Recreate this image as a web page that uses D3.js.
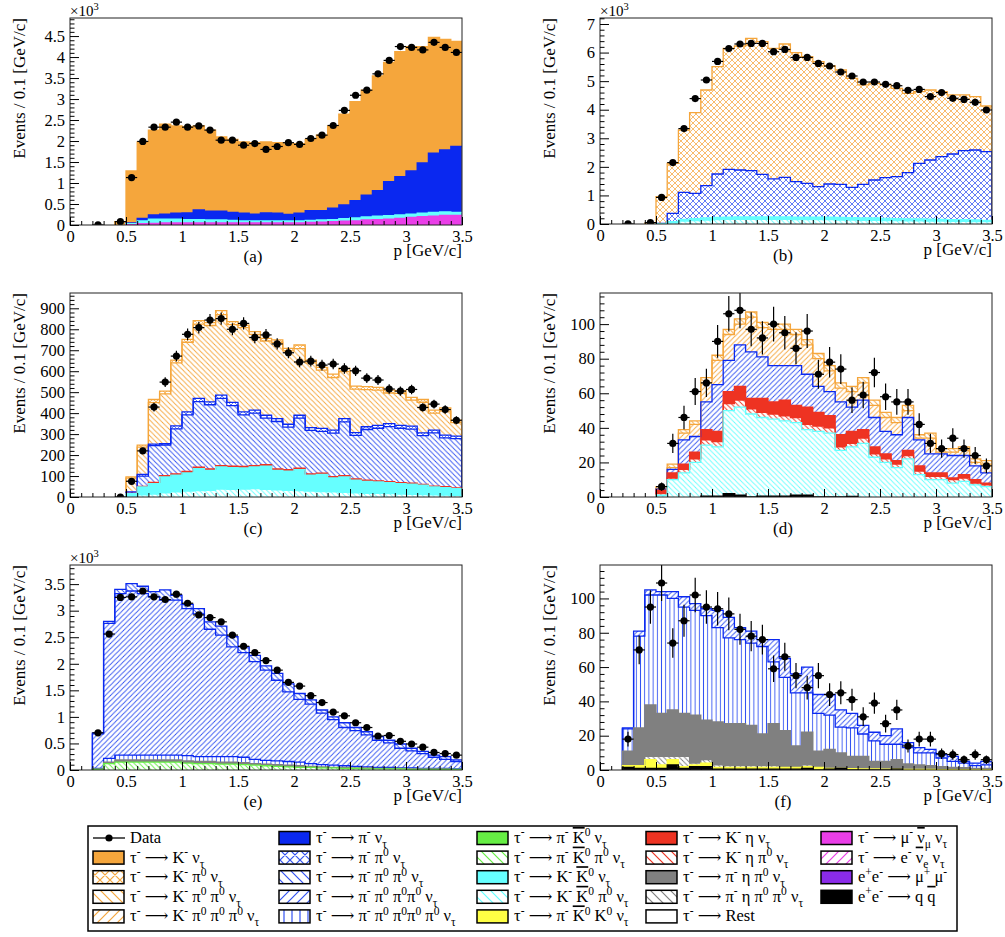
<!DOCTYPE html>
<html>
<head>
<meta charset="utf-8">
<script src="https://cdn.jsdelivr.net/npm/d3@7"></script>
<style>
body { margin: 0; background: #fff; }
svg text { font-family: "Liberation Serif", "DejaVu Serif", serif; white-space: pre; }
</style>
</head>
<body>
<svg id="fig" width="1005" height="937" font-family="Liberation Serif, serif"></svg>
<script>
// lower edges of the 35 momentum bins (0.1 GeV/c wide)
var bins = d3.range(35).map(function(i) { return i / 10; });

// ---- panel (a), values in 10^3 ----
var aData = [null,null,0.001,null,0.08,1.13,1.99,2.33,2.33,2.45,
  2.33,2.36,2.26,2.02,2.02,1.90,1.94,1.80,1.87,1.96,
  1.92,2.06,2.14,2.37,2.73,3.09,3.21,3.60,3.92,4.25,
  4.23,4.17,4.35,4.23,4.11];
var aTopMu = [0,0,0,0,0,0.01,0.03,0.04,0.05,0.05,
  0.05,0.05,0.05,0.05,0.05,0.05,0.05,0.05,0.05,0.05,
  0.05,0.06,0.07,0.08,0.09,0.10,0.12,0.13,0.14,0.16,
  0.18,0.20,0.21,0.23,0.23];
var aTopCyan = [0,0,0,0,0,0.03,0.10,0.14,0.14,0.14,
  0.13,0.13,0.12,0.12,0.11,0.10,0.10,0.10,0.10,0.10,
  0.10,0.11,0.12,0.13,0.15,0.17,0.19,0.21,0.22,0.24,
  0.26,0.28,0.30,0.31,0.30];
var aTopPi = [0,0,0,0,0,0.05,0.16,0.24,0.26,0.28,
  0.29,0.36,0.33,0.33,0.30,0.28,0.26,0.29,0.28,0.25,
  0.28,0.34,0.34,0.40,0.48,0.58,0.71,0.82,1.03,1.15,
  1.29,1.48,1.71,1.79,1.87];
var aTopK = [0,0,0,0,0.08,1.29,1.98,2.26,2.40,2.36,
  2.34,2.36,2.26,2.10,2.04,1.98,1.96,1.98,1.96,1.93,
  1.94,2.04,2.14,2.36,2.64,2.94,3.21,3.55,3.87,4.13,
  4.25,4.25,4.47,4.42,4.37];

// ---- panel (b), values in 10^3 ----
var bData = [null,null,0.001,null,0.05,0.93,2.15,3.34,4.39,5.04,
  5.69,6.14,6.30,6.32,6.32,6.03,6.11,5.83,5.83,5.62,
  5.53,5.32,5.18,4.97,4.97,4.89,4.84,4.68,4.71,4.46,
  4.60,4.40,4.36,4.26,3.99];
var bTopCyanH = [0,0,0,0,0,0,0.04,0.10,0.12,0.14,
  0.15,0.16,0.16,0.16,0.16,0.16,0.16,0.15,0.15,0.15,
  0.15,0.14,0.14,0.13,0.13,0.12,0.12,0.11,0.11,0.10,
  0.10,0.09,0.09,0.08,0.08];
var bTopCyan = [0,0,0,0,0,0.01,0.08,0.16,0.19,0.21,
  0.23,0.24,0.25,0.25,0.25,0.25,0.25,0.24,0.24,0.24,
  0.24,0.23,0.22,0.21,0.21,0.20,0.19,0.18,0.18,0.17,
  0.16,0.15,0.15,0.14,0.13];
var bTopPiPi0 = [0,0,0,0,0,0.02,0.37,1.11,1.07,1.34,
  1.75,1.91,1.89,1.87,1.74,1.58,1.63,1.48,1.42,1.31,
  1.40,1.39,1.28,1.39,1.54,1.62,1.66,1.80,2.12,2.24,
  2.36,2.45,2.57,2.59,2.53];
var bTotal = [0,0,0,0,0.03,0.96,2.12,3.29,3.90,4.69,
  5.51,6.15,6.23,6.50,6.38,6.15,6.30,6.00,5.86,5.68,
  5.53,5.39,5.10,4.87,4.92,4.87,4.75,4.57,4.63,4.69,
  4.63,4.52,4.52,4.46,4.13];

// ---- panel (c) ----
var cData = [null,null,null,null,0,75,220,429,548,672,
  776,808,844,851,800,828,761,773,730,688,
  644,648,629,634,613,602,567,558,515,505,
  513,427,443,417,366];
var cTopCyanH = [0,0,0,0,0,4,10,14,20,24,
  28,30,32,38,36,38,40,36,34,32,
  30,28,26,24,22,20,18,17,16,14,
  13,12,10,9,8];
var cTopCyan = [0,0,0,0,0,16,48,64,96,104,
  115,135,127,143,140,139,143,147,127,123,
  131,104,108,91,96,80,75,72,68,64,
  61,56,48,45,40];
var cTopRed = [0,0,0,0,0,17,51,70,102,110,
  122,142,134,150,147,146,150,154,134,130,
  138,110,114,97,102,86,80,77,73,69,
  66,60,52,49,44];
var cTopPiPi0Pi0 = [0,0,0,0,0,18,100,245,248,325,
  392,455,440,470,436,392,400,376,360,333,
  376,318,313,305,358,294,322,328,336,328,
  324,293,306,282,278];
var cTopPiPi0 = [0,0,0,0,0,24,108,252,255,339,
  406,470,454,486,451,406,414,390,374,347,
  390,331,327,319,374,307,335,342,350,342,
  338,306,319,295,290];
var cTopKPi0Pi0 = [0,0,0,0,0,90,238,450,492,640,
  738,825,818,870,822,808,776,744,737,697,
  708,640,605,570,598,515,512,510,496,494,
  462,452,400,410,355];
var cTotal = [0,0,0,0,0,96,247,465,505,653,
  752,841,832,889,836,820,789,757,749,709,
  725,653,618,586,613,529,526,523,510,507,
  475,465,414,425,366];

// ---- panel (d) ----
var dData = [null,null,null,null,null,6,31,46,61,66,
  90,106,108,97,92,100,95,86,96,71,
  78,74,56,59,72,58,55,55,42,31,
  28,34,28,24,18];
var dTopQQ = [0,0,0,0,0,0,0,0,0,0.5,
  0.5,2,1,0,0.5,0.5,0.5,1,1,0,
  0,0,0.3,0,0,0,0,0,0,0,
  0,0,0,0,0];
var dTopCyanH = [0,0,0,0,0,1,10,14,20,30,
  29,50,52,48,46,45,44,43,39,38,
  37,27,29,31,23,20,17,22,13,10,
  10,8,9,7,6];
var dTopRedH = [0,0,0,0,0,2,11,16,22,33,
  32,54,56,51,49,48,47,46,42,41,
  40,29,31,34,25,22,19,24,15,12,
  12,10,11,8,7];
var dTopRed = [0,0,0,0,0,4,14,19,26,39,
  38,61,64,57,57,55,56,53,52,49,
  47,36,38,39,29,25,21,27,18,14,
  14,11,13,10,8];
var dTopBlue = [0,0,0,0,0,4.5,16,33,35,55,
  65,79,88,84,81,76,76,76,71,64,
  61,55,52,56,46,38,36,46,33,25,
  25,24,24,18,14];
var dTopKPi0Pi0Pi0 = [0,0,0,0,0,5,17,37,42,66,
  79,94,100,104,98,97,97,94,88,80,
  73,63,61,66,53,46,43,50,34,34,
  26,26,27,20,19];
var dTotal = [0,0,0,0,0,6,19,39,44,69,
  82,97,103,107,101,100,100,97,91,83,
  76,66,64,69,56,49,46,53,36,37,
  28,28,29,22,21];

// ---- panel (e), values in 10^3 ----
var eData = [null,null,0.70,2.56,3.25,3.26,3.37,3.26,3.21,3.31,
  3.14,2.92,2.87,2.79,2.54,2.33,2.21,2.06,1.88,1.65,
  1.58,1.40,1.27,1.09,1.02,0.89,0.80,0.64,0.65,0.54,
  0.49,0.43,0.33,0.31,0.28];
var eTopGreenH = [0,0,0.01,0.12,0.15,0.15,0.15,0.15,0.15,0.15,
  0.13,0.12,0.12,0.11,0.11,0.10,0.09,0.08,0.07,0.06,
  0.05,0.05,0.04,0.04,0.03,0.03,0.02,0.02,0.02,0.02,
  0.01,0.01,0.01,0.01,0.01];
var eTopGray = [0,0,0.02,0.15,0.19,0.19,0.19,0.19,0.19,0.19,
  0.17,0.16,0.16,0.15,0.15,0.14,0.12,0.11,0.10,0.09,
  0.08,0.07,0.06,0.05,0.05,0.04,0.04,0.03,0.03,0.03,
  0.02,0.02,0.02,0.02,0.01];
var eTopVert = [0,0,0.03,0.22,0.28,0.28,0.28,0.28,0.28,0.28,
  0.27,0.25,0.25,0.25,0.25,0.24,0.20,0.18,0.17,0.16,
  0.15,0.12,0.10,0.09,0.08,0.07,0.06,0.05,0.05,0.04,
  0.04,0.03,0.03,0.03,0.02];
var eTopPiPi0Pi0Pi0 = [0,0,0.68,2.76,3.32,3.37,3.32,3.26,3.20,3.20,
  3.04,2.94,2.65,2.54,2.32,2.21,2.04,1.88,1.69,1.47,
  1.33,1.24,1.07,0.95,0.80,0.74,0.66,0.56,0.51,0.41,
  0.36,0.31,0.24,0.20,0.16];
var eTotal = [0,0,0.70,2.80,3.40,3.51,3.46,3.36,3.39,3.29,
  3.12,3.04,2.79,2.71,2.51,2.32,2.16,1.96,1.82,1.62,
  1.44,1.32,1.13,1.00,0.89,0.80,0.72,0.63,0.56,0.49,
  0.41,0.35,0.28,0.25,0.19];

// ---- panel (f) ----
var fData = [null,null,18,70,95,109,74,87,102,95,
  94,91,82,78,76,59,66,55,48,55,
  44,45,41,31,39,27,35,14,18,18,
  9.5,9,6,9,6];
var fTopQQ = [0,0,1.5,1,1,1,3,1,2,2,
  0.5,0.5,0.5,0.5,0.5,0.5,0.5,0.5,1,0,
  0.5,1,0,0,0,0,0.5,0,0,0,
  0,0,0,0,0];
var fTopYellow = [0,0,2.5,2.5,6,3,6,2,3,4,
  1.5,1.5,1.5,1.5,1.5,1.5,1.5,1.5,2,1.5,
  1,1,0.8,0.6,0.6,0.5,0.5,0.3,0.3,0.3,
  0.2,0.2,0.2,0.2,0.2];
var fTopGrayH = [0,0,3,3,8,8,8,8,4,6,
  3,2.5,2.5,2.5,2.5,2.5,2,2,3,2,
  1.5,1.5,1,1,0.8,0.8,0.8,0.5,0.5,0.5,
  0.3,0.3,0.3,0.3,0.3];
var fTopGray = [0,0,11,24.5,38,33,35,33,32,29,
  28,27,27,26,21,27,23,14,22,11,
  12,10,8,8,5,5,6,3.5,3,2.5,
  2,1.5,1.4,1,1];
var fTopVert = [0,0,24,78,102,102,100,95,93,90,
  83,77,76,74,72,63,54,45,45,33,
  32,25,24.5,21,17,15,15,13,10,10,
  7,5,4,2.5,3];
var fTotal = [0,0,24.5,81,105,104,104,101,97,94,
  93,89,83,81,76,76,65,56,60,44,
  44,35,33,26,22,20,24,16,13,12,
  9,8,5,4,5];

// ---- legend ----
var legendKeys = [
  ["Data", "KNu", "KPi0", "KPi0Pi0", "KPi0Pi0Pi0"],
  ["PiNu", "PiPi0", "PiPi0Pi0", "PiPi0Pi0Pi0", "Pi4Pi0"],
  ["PiK0", "PiK0Pi0", "KK0", "KK0Pi0", "PiK0K0"],
  ["KEta", "KEtaPi0", "PiEtaPi0", "PiEtaPi0Pi0", "Rest"],
  ["MuNu", "ENu", "MuMu", "QQ"]
];
var legendText = {
  Data: "Data",
  KNu: "τ^{-} ⟶ K^{-} ν_{τ}",
  KPi0: "τ^{-} ⟶ K^{-} π^{0} ν_{τ}",
  KPi0Pi0: "τ^{-} ⟶ K^{-} π^{0} π^{0} ν_{τ}",
  KPi0Pi0Pi0: "τ^{-} ⟶ K^{-} π^{0} π^{0} π^{0} ν_{τ}",
  PiNu: "τ^{-} ⟶ π^{-} ν_{τ}",
  PiPi0: "τ^{-} ⟶ π^{-} π^{0} ν_{τ}",
  PiPi0Pi0: "τ^{-} ⟶ π^{-} π^{0} π^{0} ν_{τ}",
  PiPi0Pi0Pi0: "τ^{-} ⟶ π^{-} π^{0} π^{0}π^{0} ν_{τ}",
  Pi4Pi0: "τ^{-} ⟶ π^{-} π^{0} π^{0}π^{0} π^{0} ν_{τ}",
  PiK0: "τ^{-} ⟶ π^{-} #bar{K}^{0} ν_{τ}",
  PiK0Pi0: "τ^{-} ⟶ π^{-} #bar{K}^{0} π^{0} ν_{τ}",
  KK0: "τ^{-} ⟶ K^{-} #bar{K}^{0} ν_{τ}",
  KK0Pi0: "τ^{-} ⟶ K^{-} #bar{K}^{0} π^{0} ν_{τ}",
  PiK0K0: "τ^{-} ⟶ π^{-} #bar{K}^{0} K^{0} ν_{τ}",
  KEta: "τ^{-} ⟶ K^{-} η ν_{τ}",
  KEtaPi0: "τ^{-} ⟶ K^{-} η π^{0} ν_{τ}",
  PiEtaPi0: "τ^{-} ⟶ π^{-} η π^{0} ν_{τ}",
  PiEtaPi0Pi0: "τ^{-} ⟶ π^{-} η π^{0} π^{0} ν_{τ}",
  Rest: "τ^{-} ⟶ Rest",
  MuNu: "τ^{-} ⟶ μ^{-} #bar{ν}_{μ} ν_{τ}",
  ENu: "τ^{-} ⟶ e^{-} #bar{ν}_{e} ν_{τ}",
  MuMu: "e^{+}e^{-} ⟶ μ^{+} μ^{-}",
  QQ: "e^{+}e^{-} ⟶ q #bar{q}"
};

var orange = "#f5a63c", blue = "#0a28f0", blueH = "#3252f2", green = "#66ee44",
    cyan = "#66ffff", red = "#ee3322", gray = "#808080", magenta = "#ea3ee8",
    purple = "#8a2be8", yellow = "#ffff44";
var styles = {
  KNu: {fill: orange}, KPi0: {hatch: "cross", color: orange},
  KPi0Pi0: {hatch: "back", color: orange}, KPi0Pi0Pi0: {hatch: "fwd", color: orange},
  PiNu: {fill: blue}, PiPi0: {hatch: "cross", color: blueH, line: blue},
  PiPi0Pi0: {hatch: "back", color: blueH, line: blue}, PiPi0Pi0Pi0: {hatch: "fwd", color: blueH, line: blue},
  Pi4Pi0: {hatch: "vert", color: blueH, line: blue},
  PiK0: {fill: green}, PiK0Pi0: {hatch: "back", color: green},
  KK0: {fill: cyan}, KK0Pi0: {hatch: "back", color: cyan},
  PiK0K0: {fill: yellow},
  KEta: {fill: red}, KEtaPi0: {hatch: "back", color: red},
  PiEtaPi0: {fill: gray}, PiEtaPi0Pi0: {hatch: "back", color: gray},
  Rest: {fill: "#fff", line: "#000"},
  MuNu: {fill: magenta}, ENu: {hatch: "fwd", color: magenta},
  MuMu: {fill: purple}, QQ: {fill: "#000"}
};

var svg = d3.select("#fig");
var defs = svg.append("defs");
var serif = "Liberation Serif, DejaVu Serif, serif";

function makeHatch(id, color, kind, s, w) {
  var pat = defs.append("pattern").attr("id", id).attr("patternUnits", "userSpaceOnUse")
    .attr("width", s).attr("height", s);
  pat.append("rect").attr("width", s).attr("height", s).attr("fill", "#fff");
  var d = "";
  if (kind === "fwd" || kind === "cross")
    d += "M0," + s + "L" + s + ",0M-1,1L1,-1M" + (s - 1) + "," + (s + 1) + "L" + (s + 1) + "," + (s - 1);
  if (kind === "back" || kind === "cross")
    d += "M0,0L" + s + "," + s + "M-1," + (s - 1) + "L1," + (s + 1) + "M" + (s - 1) + ",-1L" + (s + 1) + ",1";
  if (kind === "vert") d += "M" + (s / 2) + ",0V" + s;
  pat.append("path").attr("d", d).attr("fill", "none").attr("stroke", color).attr("stroke-width", w);
}

Object.keys(styles).forEach(function(k) {
  var st = styles[k];
  if (st.hatch) {
    var s = st.hatch === "vert" ? 4.2 : st.hatch === "cross" ? 6 : 5.2;
    makeHatch("p-" + k, st.color, st.hatch, s, st.hatch === "cross" ? 0.75 : 0.9);
    makeHatch("l-" + k, st.color, st.hatch, st.hatch === "vert" ? 8 : 10, 1.2);
  }
});

function fillOf(k, pre) {
  var st = styles[k];
  return st.hatch ? "url(#" + pre + "-" + k + ")" : st.fill;
}
function lineOf(k) {
  var st = styles[k];
  return st.line || st.color || st.fill;
}

// small text markup: ^{..} super, _{..} sub, #bar{..} overline
function rich(sel, str, size) {
  var re = /\^\{([^}]*)\}|_\{([^}]*)\}|#bar\{([^}]*)\}|([^\^_#]+)/g, m, shift = 0;
  while ((m = re.exec(str)) !== null) {
    var target = 0, txt, small = false, bar = false;
    if (m[1] !== undefined) { target = -0.4 * size; txt = m[1]; small = true; }
    else if (m[2] !== undefined) { target = 0.3 * size; txt = m[2]; small = true; }
    else if (m[3] !== undefined) { txt = m[3]; bar = true; }
    else txt = m[4];
    var t = sel.append("tspan").attr("dy", target - shift).text(txt);
    if (small) t.attr("font-size", size * 0.7);
    if (bar) t.style("text-decoration", "overline");
    shift = target;
  }
}

function drawPanel(p) {
  var x = d3.scaleLinear().domain([0, 3.5]).range([p.left, p.right]);
  var y = d3.scaleLinear().domain([0, p.ymax]).range([p.bottom, p.top]);
  var g = svg.append("g").attr("font-family", serif);
  var clipId = "clip-" + p.label;
  defs.append("clipPath").attr("id", clipId).append("rect")
    .attr("x", p.left).attr("y", p.top).attr("width", p.right - p.left).attr("height", p.bottom - p.top);
  var plot = g.append("g").attr("clip-path", "url(#" + clipId + ")");

  // stacked bands
  var area = d3.area().x(function(d) { return x(d.x); })
    .y0(function(d) { return y(d.lo); }).y1(function(d) { return y(d.hi); });
  var prev = bins.map(function() { return 0; });
  p.layers.forEach(function(layer) {
    var top = layer[1], pts = [];
    bins.forEach(function(b, i) {
      pts.push({x: b, lo: prev[i], hi: top[i]}, {x: b + 0.1, lo: prev[i], hi: top[i]});
    });
    plot.append("path").attr("d", area(pts)).attr("fill", fillOf(layer[0], "p"))
      .attr("shape-rendering", "crispEdges");
    prev = top;
  });

  // histogram outlines
  var line = d3.line().x(function(d) { return x(d[0]); }).y(function(d) { return y(d[1]); });
  p.layers.slice().reverse().forEach(function(layer) {
    var top = layer[1];
    var idx = bins.map(function(b, i) { return i; }).filter(function(i) { return top[i] > 0; });
    if (!idx.length) return;
    var i0 = idx[0], i1 = idx[idx.length - 1];
    var pts = [[bins[i0], 0]];
    for (var i = i0; i <= i1; i++) pts.push([bins[i], top[i]], [bins[i] + 0.1, top[i]]);
    pts.push([bins[i1] + 0.1, 0]);
    plot.append("path").attr("d", line(pts)).attr("fill", "none")
      .attr("stroke", lineOf(layer[0])).attr("stroke-width", 1.3);
  });

  // data points with errors
  var pts = [];
  p.data.forEach(function(v, i) { if (v !== null) pts.push({b: bins[i], v: v}); });
  var dg = plot.append("g").attr("stroke", "#000").attr("stroke-width", 1.2);
  pts.forEach(function(d) {
    var e = Math.sqrt(d.v * p.unit) / p.unit;
    dg.append("line").attr("x1", x(d.b)).attr("x2", x(d.b + 0.1)).attr("y1", y(d.v)).attr("y2", y(d.v));
    dg.append("line").attr("x1", x(d.b + 0.05)).attr("x2", x(d.b + 0.05)).attr("y1", y(d.v - e)).attr("y2", y(d.v + e));
  });
  plot.append("g").selectAll("circle").data(pts).enter().append("circle")
    .attr("cx", function(d) { return x(d.b + 0.05); })
    .attr("cy", function(d) { return y(d.v); })
    .attr("r", 3.6).attr("fill", "#000");

  // frame
  g.append("rect").attr("x", p.left).attr("y", p.top).attr("width", p.right - p.left)
    .attr("height", p.bottom - p.top).attr("fill", "none").attr("stroke", "#222").attr("stroke-width", 1);

  // axes
  var sub = 5, yMaj = [], yMin = [];
  for (var k = 0; k * p.major / sub <= p.ymax + 1e-9; k++) {
    var v = +(k * p.major / sub).toFixed(4);
    if (k % sub === 0) yMaj.push(v); else yMin.push(v);
  }
  var fmt = function(v) { return String(+v.toFixed(3)); };
  var ya = g.append("g").attr("transform", "translate(" + p.left + ",0)")
    .call(d3.axisLeft(y).tickValues(yMaj).tickSize(-9).tickSizeOuter(0).tickPadding(5).tickFormat(fmt));
  g.append("g").attr("transform", "translate(" + p.left + ",0)")
    .call(d3.axisLeft(y).tickValues(yMin).tickSize(-4.5).tickSizeOuter(0).tickFormat(""));
  var xMaj = [], xMin = [];
  for (var j = 0; j <= 35; j++) { if (j % 5 === 0) xMaj.push(j / 10); else xMin.push(j / 10); }
  var xa = g.append("g").attr("transform", "translate(0," + p.bottom + ")")
    .call(d3.axisBottom(x).tickValues(xMaj).tickSize(-8).tickSizeOuter(0).tickPadding(5).tickFormat(fmt));
  g.append("g").attr("transform", "translate(0," + p.bottom + ")")
    .call(d3.axisBottom(x).tickValues(xMin).tickSize(-4).tickSizeOuter(0).tickFormat(""));
  [ya, xa].forEach(function(a) {
    a.attr("font-size", 16.5).attr("font-family", serif);
    a.selectAll("text").attr("fill", "#000");
  });
  g.selectAll(".domain").remove();

  // titles
  g.append("text").attr("x", p.right).attr("y", p.bottom + 31).attr("text-anchor", "end")
    .attr("font-size", 17).text("p [GeV/c]");
  g.append("text").attr("x", (p.left + p.right) / 2 - 13).attr("y", p.bottom + 37)
    .attr("text-anchor", "middle").attr("font-size", 17).text("(" + p.label + ")");
  g.append("text").attr("transform", "translate(" + p.titleX + "," + p.top + ") rotate(-90)")
    .attr("text-anchor", "end").attr("font-size", 17).text("Events / 0.1 [GeV/c]");
  if (p.unit > 1) {
    rich(g.append("text").attr("x", p.left).attr("y", p.top - 2).attr("font-size", 15), "×10^{3}", 15);
  }
}

var panels = [
  {label: "a", left: 70, right: 462, top: 18, bottom: 225, ymax: 4.93, major: 0.5, unit: 1000, titleX: 25,
   data: aData, layers: [["MuNu", aTopMu], ["KK0", aTopCyan], ["PiNu", aTopPi], ["KNu", aTopK]]},
  {label: "b", left: 600, right: 992, top: 18, bottom: 224, ymax: 7.21, major: 1, unit: 1000, titleX: 555,
   data: bData, layers: [["KK0Pi0", bTopCyanH], ["KK0", bTopCyan], ["PiPi0", bTopPiPi0], ["KPi0", bTotal]]},
  {label: "c", left: 70, right: 462, top: 293, bottom: 497, ymax: 973, major: 100, unit: 1, titleX: 25,
   data: cData, layers: [["KK0Pi0", cTopCyanH], ["KK0", cTopCyan], ["KEta", cTopRed], ["PiPi0Pi0", cTopPiPi0Pi0],
     ["PiPi0", cTopPiPi0], ["KPi0Pi0", cTopKPi0Pi0], ["KPi0", cTotal]]},
  {label: "d", left: 600, right: 992, top: 293, bottom: 497, ymax: 118, major: 20, unit: 1, titleX: 555,
   data: dData, layers: [["QQ", dTopQQ], ["KK0Pi0", dTopCyanH], ["KEtaPi0", dTopRedH], ["KEta", dTopRed],
     ["PiPi0Pi0Pi0", dTopBlue], ["KPi0Pi0Pi0", dTopKPi0Pi0Pi0], ["KPi0Pi0", dTotal]]},
  {label: "e", left: 70, right: 462, top: 565, bottom: 770, ymax: 3.86, major: 0.5, unit: 1000, titleX: 25,
   data: eData, layers: [["PiK0Pi0", eTopGreenH], ["PiEtaPi0", eTopGray], ["Pi4Pi0", eTopVert],
     ["PiPi0Pi0Pi0", eTopPiPi0Pi0Pi0], ["PiPi0Pi0", eTotal]]},
  {label: "f", left: 600, right: 992, top: 565, bottom: 770, ymax: 119.5, major: 20, unit: 1, titleX: 555,
   data: fData, layers: [["QQ", fTopQQ], ["PiK0K0", fTopYellow], ["PiEtaPi0Pi0", fTopGrayH], ["PiEtaPi0", fTopGray],
     ["Pi4Pi0", fTopVert], ["PiPi0Pi0Pi0", fTotal]]}
];
panels.forEach(drawPanel);

// legend box
var lg = svg.append("g").attr("font-family", serif);
lg.append("rect").attr("x", 88).attr("y", 826).attr("width", 869).attr("height", 105)
  .attr("fill", "#fff").attr("stroke", "#000").attr("stroke-width", 1.5);
var colX = [93, 279, 477, 646, 821];
legendKeys.forEach(function(col, c) {
  col.forEach(function(k, r) {
    var cy = 838 + r * 19.6, sx = colX[c];
    if (k === "Data") {
      lg.append("line").attr("x1", sx).attr("x2", sx + 32).attr("y1", cy).attr("y2", cy)
        .attr("stroke", "#000").attr("stroke-width", 1.3);
      lg.append("circle").attr("cx", sx + 16).attr("cy", cy).attr("r", 3.6).attr("fill", "#000");
    } else {
      lg.append("rect").attr("x", sx).attr("y", cy - 6.5).attr("width", 31).attr("height", 13)
        .attr("fill", fillOf(k, "l")).attr("stroke", "#000").attr("stroke-width", 1.5);
    }
    rich(lg.append("text").attr("x", sx + 37).attr("y", cy + 5).attr("font-size", 16.5), legendText[k], 16.5);
  });
});
</script>
</body>
</html>
